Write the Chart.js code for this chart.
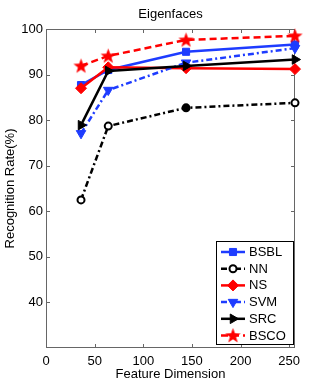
<!DOCTYPE html>
<html><head><meta charset="utf-8">
<script src="https://cdn.jsdelivr.net/npm/chart.js@4"></script>
<style>html,body{margin:0;padding:0;background:#fff}</style>
</head><body>
<canvas id="c" width="327" height="392" style="display:block;width:327px;height:392px"></canvas>
<script>
const chartTitle = 'Eigenfaces';
const xLabel = 'Feature Dimension';
const yLabel = 'Recognition Rate(%)';
const dims = [36, 64, 144, 256];
const seriesNames = ['BSBL', 'NN', 'NS', 'SVM', 'SRC', 'BSCO'];
const bsbl = [87.7, 91.0, 95.0, 96.6];
const nn   = [62.5, 78.7, 82.7, 83.8];
const ns   = [87.0, 91.6, 91.4, 91.2];
const svm  = [77.1, 86.6, 92.6, 95.8];
const src  = [78.9, 90.8, 91.9, 93.3];
const bsco = [91.9, 94.1, 97.6, 98.5];
const xTicks = [0, 50, 100, 150, 200, 250];
const yTicks = [40, 50, 60, 70, 80, 90, 100];

const FONT = 'Liberation Sans, Arial, Helvetica, sans-serif';
const BLUE = 'rgb(30,60,255)';
const RED = 'rgb(255,0,0)';
const BLACK = '#000';

function starCanvas(color) {
  const s = 17, c = document.createElement('canvas');
  c.width = s; c.height = s;
  const g = c.getContext('2d');
  g.fillStyle = color;
  g.beginPath();
  for (let i = 0; i < 10; i++) {
    const r = i % 2 ? 3.3 : 8;
    const a = -Math.PI / 2 + i * Math.PI / 5;
    g.lineTo(s / 2 + r * Math.cos(a), s / 2 + 0.5 + r * Math.sin(a));
  }
  g.closePath(); g.fill();
  return c;
}
const star = starCanvas(RED);
const pts = arr => dims.map((x, i) => ({x: x, y: arr[i]}));

const styles = [
  {color: BLUE,  dash: [],            ps: 'rect',     r: 5,   rot: 0,   bg: BLUE,  bw: 1},
  {color: BLACK, dash: [6, 3, 2, 3],  ps: 'circle',   r: 3.5, rot: 0,   bg: '#fff', bw: 2,
   pointBg: ['#fff', '#fff', '#000', '#fff']},
  {color: RED,   dash: [],            ps: 'rectRot',  r: 5.5, rot: 0,   bg: RED,   bw: 1},
  {color: BLUE,  dash: [6, 3, 2, 3],  ps: 'triangle', r: 5.5, rot: 180, bg: BLUE,  bw: 1},
  {color: BLACK, dash: [],            ps: 'triangle', r: 5.5, rot: 90,  bg: BLACK, bw: 1},
  {color: RED,   dash: [7, 4],        ps: star,       r: 8,   rot: 0,   bg: RED,   bw: 0}
];
const values = [bsbl, nn, ns, svm, src, bsco];

const datasets = seriesNames.map((name, i) => {
  const s = styles[i];
  return {
    label: name, data: pts(values[i]),
    borderColor: s.color, backgroundColor: s.bg, borderWidth: 2.5, borderDash: s.dash,
    pointStyle: s.ps, pointRadius: s.r, pointRotation: s.rot,
    pointBackgroundColor: s.pointBg || s.bg, pointBorderColor: s.color, pointBorderWidth: s.bw,
    tension: 0, clip: false, order: 10 - i
  };
});

const framePlugin = {
  id: 'frame',
  beforeDatasetsDraw(chart) {
    const {ctx, chartArea: a, scales: {x, y}} = chart;
    ctx.save();
    ctx.strokeStyle = '#666'; ctx.lineWidth = 1;
    ctx.strokeRect(Math.round(a.left) + 0.5, Math.round(a.top) + 0.5, Math.round(a.right - a.left) - 1, Math.round(a.bottom - a.top) - 1);
    ctx.beginPath();
    const L = 4;
    xTicks.forEach(v => {
      const px = Math.round(x.getPixelForValue(v)) + 0.5;
      ctx.moveTo(px, a.bottom); ctx.lineTo(px, a.bottom - L);
      ctx.moveTo(px, a.top); ctx.lineTo(px, a.top + L);
    });
    yTicks.forEach(v => {
      const py = Math.round(y.getPixelForValue(v)) + 0.5;
      ctx.moveTo(a.left, py); ctx.lineTo(a.left + L, py);
      ctx.moveTo(a.right, py); ctx.lineTo(a.right - L, py);
    });
    ctx.stroke();
    ctx.restore();
  },
  afterDatasetsDraw(chart) {
    const {ctx, chartArea: a} = chart;
    ctx.save();
    const w = 77, h = 103;
    const bx = Math.round(a.right - 2 - w), by = Math.round(a.bottom - 4 - h);
    ctx.fillStyle = '#fff';
    ctx.fillRect(bx, by, w, h);
    ctx.strokeStyle = '#000'; ctx.lineWidth = 1;
    ctx.strokeRect(bx + 0.5, by + 0.5, w, h);
    ctx.font = '13px ' + FONT;
    ctx.textBaseline = 'middle'; ctx.textAlign = 'left';
    seriesNames.forEach((name, i) => {
      const s = styles[i];
      const cy = by + 11 + i * 16.7;
      ctx.save();
      ctx.strokeStyle = s.color; ctx.lineWidth = 2.5; ctx.setLineDash(s.dash);
      ctx.beginPath(); ctx.moveTo(bx + 5, cy); ctx.lineTo(bx + 29, cy); ctx.stroke();
      ctx.setLineDash([]);
      ctx.fillStyle = s.bg; ctx.strokeStyle = s.color; ctx.lineWidth = s.bw;
      Chart.helpers.drawPoint(ctx, {pointStyle: s.ps, radius: s.r, rotation: s.rot, borderWidth: s.bw}, bx + 17, cy);
      ctx.restore();
      ctx.fillStyle = '#000';
      ctx.fillText(name, bx + 33, cy + 0.5);
    });
    ctx.restore();
  },
  afterDraw(chart) {
    const {ctx, chartArea: a} = chart;
    ctx.save();
    ctx.font = '13px ' + FONT; ctx.fillStyle = '#000';
    ctx.textAlign = 'center'; ctx.textBaseline = 'middle';
    ctx.fillText(chartTitle, (a.left + a.right) / 2, 14);
    ctx.restore();
  }
};

new Chart(document.getElementById('c'), {
  type: 'line',
  data: {datasets: datasets},
  options: {
    responsive: false, animation: false, devicePixelRatio: 1,
    layout: {padding: {top: 29, right: 32, left: 0, bottom: 0}},
    plugins: {legend: {display: false}, title: {display: false}, tooltip: {enabled: false}},
    scales: {
      x: {
        type: 'linear', min: 0, max: 256,
        afterBuildTicks: s => { s.ticks = xTicks.map(v => ({value: v})); },
        afterFit: s => { s.height = 44; },
        grid: {display: false, drawTicks: false}, border: {display: false},
        ticks: {color: '#000', font: {size: 13, family: FONT}, padding: 6, maxRotation: 0, autoSkip: false},
        title: {display: true, text: xLabel, color: '#000', font: {size: 13, family: FONT}, padding: {top: 10, bottom: 10}}
      },
      y: {
        type: 'linear', min: 30, max: 100,
        afterBuildTicks: s => { s.ticks = yTicks.map(v => ({value: v})); },
        afterFit: s => { s.width = 46; },
        grid: {display: false, drawTicks: false}, border: {display: false},
        ticks: {color: '#000', font: {size: 13, family: FONT}, padding: 3, autoSkip: false},
        title: {display: true, text: yLabel, color: '#000', font: {size: 13, family: FONT}, padding: {top: 3, bottom: 3}}
      }
    }
  },
  plugins: [framePlugin]
});
</script>
</body></html>
